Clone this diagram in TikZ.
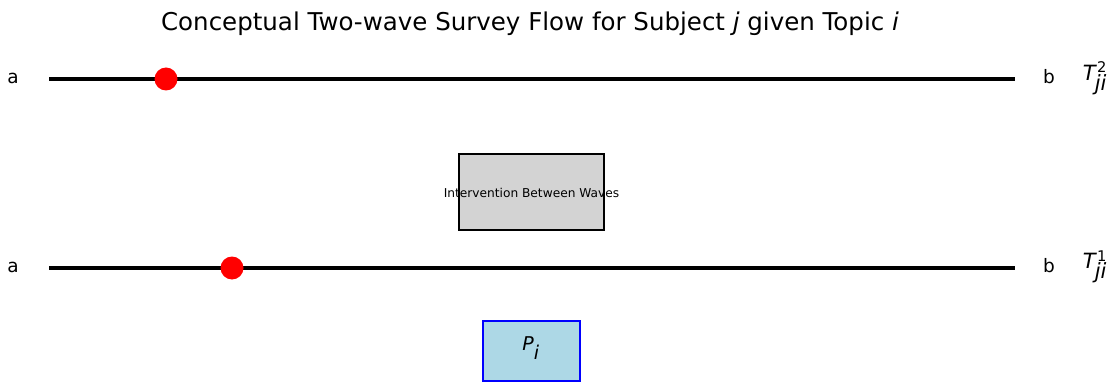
\documentclass[tikz,border=0pt]{standalone}
\usepackage{fontspec}
\setmainfont{DejaVu Sans}
\begin{document}
\begin{tikzpicture}[x=1pt,y=-1pt,
  axisline/.style={line width=3.2pt,black},
  dot/.style={circle,fill=red,inner sep=0pt,minimum size=23pt},
  endlbl/.style={font=\fontsize{18.5}{22}\selectfont,inner sep=0pt},
  tlbl/.style={font=\fontsize{21}{25}\selectfont,inner sep=0pt},
  graybox/.style={draw=black,fill={rgb,255:red,211;green,211;blue,211},line width=1.5pt,minimum width=145pt,minimum height=76pt,inner sep=0pt},
  bluebox/.style={draw={rgb,255:red,0;green,0;blue,255},fill={rgb,255:red,173;green,216;blue,230},line width=1.5pt,minimum width=97pt,minimum height=60pt,inner sep=0pt}
]
\useasboundingbox (0,0) rectangle (1113,382);
\node[font=\fontsize{24.5}{29}\selectfont,inner sep=0pt] (title) at (530,23.5) {Conceptual Two-wave Survey Flow for Subject \textit{j} given Topic \textit{i}};
% wave 2
\coordinate (l2a) at (49,79);
\coordinate (l2b) at (1015,79);
\draw[axisline] (l2a) -- (l2b);
\node[dot] (d2) at (166,79) {};
\node[endlbl] (a2) at (13,78) {a};
\node[endlbl] (b2) at (1049,77) {b};
\node[tlbl] (t2) at (1095,78) {\textit{T}$^{\mathrm{2}}_{\!\textit{ji}}$};
% intervention
\node[graybox] (int) at (531.5,192) {};
\node[font=\fontsize{12.2}{14}\selectfont,inner sep=0pt] (intl) at (531.5,192.5) {Intervention Between Waves};
% wave 1
\coordinate (l1a) at (49,268);
\coordinate (l1b) at (1015,268);
\draw[axisline] (l1a) -- (l1b);
\node[dot] (d1) at (232,268) {};
\node[endlbl] (a1) at (13,267) {a};
\node[endlbl] (b1) at (1049,266) {b};
\node[tlbl] (t1) at (1095,267) {\textit{T}$^{\mathrm{1}}_{\!\textit{ji}}$};
% P_i
\node[bluebox] (p) at (531.5,351) {};
\node[font=\fontsize{19}{22}\selectfont,inner sep=0pt] (pl) at (531,348) {\textit{P}$_{\textit{i}}$};
\end{tikzpicture}
\end{document}
